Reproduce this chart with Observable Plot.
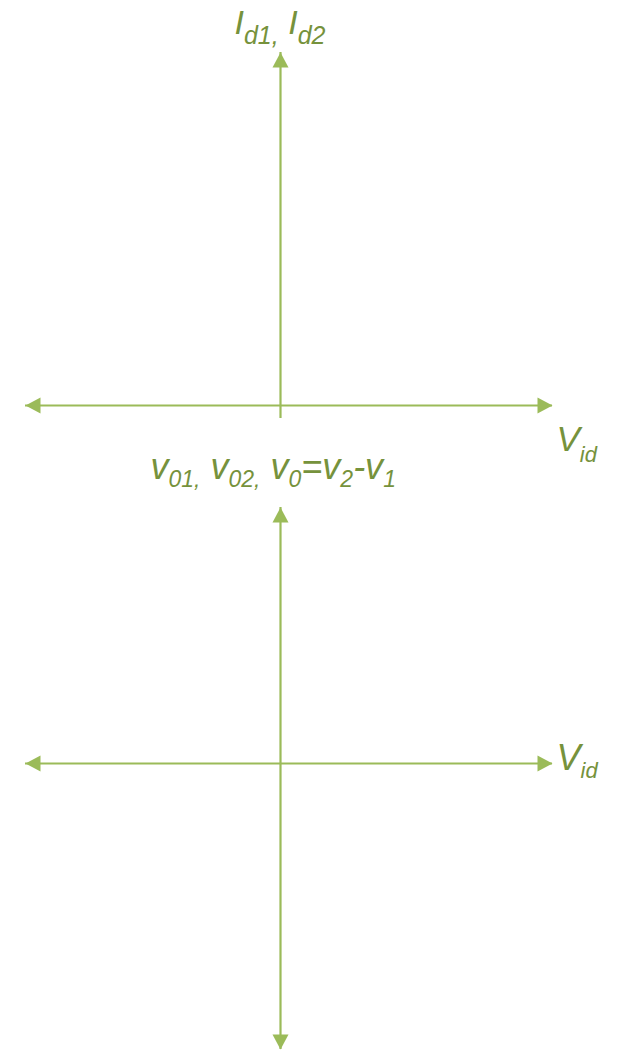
<!DOCTYPE html>
<html><head><meta charset="utf-8">
<script src="https://cdn.jsdelivr.net/npm/d3@7"></script>
<script src="https://cdn.jsdelivr.net/npm/@observablehq/plot@0.6"></script>
<style>html,body{margin:0;padding:0;background:#fff;} #chart{width:618px;height:1050px;}</style>
</head><body><div id="chart"></div>
<script>
// Horizontal axes (V_id): vertical position and horizontal extent (chart units)
const hAxisY  = [405, 763];
const hAxisX1 = [25, 25];
const hAxisX2 = [552, 552];
// Vertical axes (I_d and v_o)
const vAxisX  = [280, 280];
const vAxisY1 = [52, 507];
const vAxisY2 = [418, 1049];
// Arrowheads (tips)
const arrowX   = [552, 25, 280, 552, 25, 280, 280];
const arrowY   = [405, 405, 52, 763, 763, 507, 1049];
const arrowDir = ["right", "left", "up", "right", "left", "up", "down"];
// Labels ( _{...} marks a subscript )
const labelText = ["I_{d1,} I_{d2}", "v_{01,} v_{02,} v_{0}=v_{2}-v_{1}", "V_{id}", "V_{id}"];
const labelX = [234, 150, 556, 556];
const labelY = [33, 478, 450, 769];

// ---- styles ----
const LINE = "#9BBB59";
const TEXT = "#76923C";
const FONT = "'Liberation Sans', Arial, Helvetica, sans-serif";
const labelStyle = [
  {size: 34, sub: 25, shift: 10},
  {size: 36, sub: 23, shift: 8},
  {size: 35, sub: 22, shift: 11},
  {size: 36, sub: 22, shift: 8}
];
const L = 15, W = 8; // arrowhead length, half width
const shapes = {
  right: {draw(c){ c.moveTo(0,0); c.lineTo(-L,-W); c.lineTo(-L,W); c.closePath(); }},
  left:  {draw(c){ c.moveTo(0,0); c.lineTo(L,-W); c.lineTo(L,W); c.closePath(); }},
  up:    {draw(c){ c.moveTo(0,0); c.lineTo(-W,L); c.lineTo(W,L); c.closePath(); }},
  down:  {draw(c){ c.moveTo(0,0); c.lineTo(-W,-L); c.lineTo(W,-L); c.closePath(); }}
};

const hIdx = d3.range(hAxisY.length);
const vIdx = d3.range(vAxisX.length);
const aIdx = d3.range(arrowX.length);

const marks = [
  Plot.ruleY(hIdx, {y: i => hAxisY[i], x1: i => hAxisX1[i], x2: i => hAxisX2[i], stroke: LINE, strokeWidth: 2.2}),
  Plot.ruleX(vIdx, {x: i => vAxisX[i], y1: i => vAxisY1[i], y2: i => vAxisY2[i], stroke: LINE, strokeWidth: 2.2}),
  ...Object.keys(shapes).map(dir =>
    Plot.dot(aIdx.filter(i => arrowDir[i] === dir), {x: i => arrowX[i], y: i => arrowY[i], symbol: shapes[dir], fill: LINE, stroke: "none"})
  ),
  ...labelText.map((t, i) =>
    Plot.text([i], {x: j => labelX[j], y: j => labelY[j], text: j => labelText[j],
      textAnchor: "start", lineAnchor: "bottom", fill: TEXT, fontSize: labelStyle[i].size,
      fontFamily: FONT, fontStyle: "italic"})
  )
];

const svg = Plot.plot({
  width: 618, height: 1050,
  marginTop: 0, marginRight: 0, marginBottom: 0, marginLeft: 0,
  x: {domain: [0, 618], range: [0, 618], axis: null},
  y: {domain: [0, 1050], range: [0, 1050], axis: null},
  style: {background: "white", overflow: "visible"},
  marks
});

// Build subscripts
let k = 0;
d3.select(svg).selectAll("text").each(function() {
  const raw = this.textContent;
  if (!raw.includes("_{")) return;
  const st = labelStyle[k++];
  const parts = raw.split(/(_\{[^}]*\})/).filter(s => s.length);
  const el = d3.select(this);
  el.text(null);
  let lowered = false;
  parts.forEach(p => {
    if (p.startsWith("_{")) {
      el.append("tspan").attr("font-size", st.sub).attr("dy", lowered ? 0 : st.shift).text(p.slice(2, -1));
      lowered = true;
    } else {
      el.append("tspan").attr("dy", lowered ? -st.shift : 0).text(p);
      lowered = false;
    }
  });
});

document.getElementById("chart").appendChild(svg);
</script>
</body></html>
